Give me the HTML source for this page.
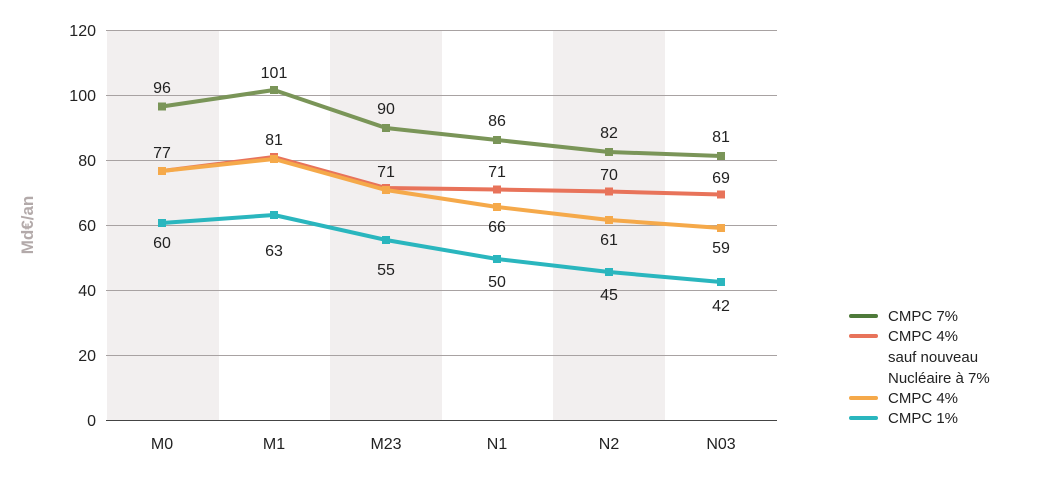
<!DOCTYPE html>
<html><head><meta charset="utf-8"><style>
body{margin:0;background:#fff;}
svg text{font-family:"Liberation Sans",sans-serif;fill:#222;}
</style></head><body>
<svg width="1037" height="477" viewBox="0 0 1037 477" xmlns="http://www.w3.org/2000/svg">
<rect x="107" y="30" width="112" height="390" fill="#f2efef"/>
<rect x="330" y="30" width="112" height="390" fill="#f2efef"/>
<rect x="553" y="30" width="112" height="390" fill="#f2efef"/>
<g stroke="#a8a2a2" stroke-width="1">
<line x1="106" y1="30.5" x2="777" y2="30.5"/>
<line x1="106" y1="95.5" x2="777" y2="95.5"/>
<line x1="106" y1="160.5" x2="777" y2="160.5"/>
<line x1="106" y1="225.5" x2="777" y2="225.5"/>
<line x1="106" y1="290.5" x2="777" y2="290.5"/>
<line x1="106" y1="355.5" x2="777" y2="355.5"/>
</g>
<line x1="106" y1="420.5" x2="777" y2="420.5" stroke="#444"/>
<g font-size="16" text-anchor="end">
<text x="96" y="36">120</text><text x="96" y="101">100</text><text x="96" y="166">80</text>
<text x="96" y="231">60</text><text x="96" y="296">40</text><text x="96" y="361">20</text><text x="96" y="426">0</text>
</g>
<text transform="translate(33,225) rotate(-90)" font-size="17" font-weight="bold" text-anchor="middle" style="fill:#b3aaaa">Md€/an</text>
<g font-size="16" text-anchor="middle">
<text x="162" y="449">M0</text><text x="274" y="449">M1</text><text x="386" y="449">M23</text>
<text x="497" y="449">N1</text><text x="609" y="449">N2</text><text x="721" y="449">N03</text>
</g>
<g fill="none" stroke-width="4" stroke-linejoin="round">
<polyline stroke="#2ab6be" points="162,223 274,215 386,240 497,259 609,272 721,282"/>
<polyline stroke="#e8735a" points="162,171 274,157 386,188 497,189.5 609,191.5 721,194.5"/>
<polyline stroke="#f5a94a" points="162,171 274,159 386,190 497,207 609,220 721,228"/>
<polyline stroke="#7a9558" points="162,106.5 274,90 386,128 497,140 609,152 721,156"/>
</g>
<g>
<g fill="#2ab6be"><rect x="158" y="219" width="8" height="8"/><rect x="270" y="211" width="8" height="8"/><rect x="382" y="236" width="8" height="8"/><rect x="493" y="255" width="8" height="8"/><rect x="605" y="268" width="8" height="8"/><rect x="717" y="278" width="8" height="8"/></g>
<g fill="#e8735a"><rect x="270" y="153" width="8" height="8"/><rect x="382" y="184" width="8" height="8"/><rect x="493" y="185.5" width="8" height="8"/><rect x="605" y="187.5" width="8" height="8"/><rect x="717" y="190.5" width="8" height="8"/></g>
<g fill="#f5a94a"><rect x="158" y="167" width="8" height="8"/><rect x="270" y="155" width="8" height="8"/><rect x="382" y="186" width="8" height="8"/><rect x="493" y="203" width="8" height="8"/><rect x="605" y="216" width="8" height="8"/><rect x="717" y="224" width="8" height="8"/></g>
<g fill="#7a9558"><rect x="158" y="102.5" width="8" height="8"/><rect x="270" y="86" width="8" height="8"/><rect x="382" y="124" width="8" height="8"/><rect x="493" y="136" width="8" height="8"/><rect x="605" y="148" width="8" height="8"/><rect x="717" y="152" width="8" height="8"/></g>
</g>
<g font-size="16" text-anchor="middle">
<text x="162" y="93">96</text><text x="274" y="78">101</text><text x="386" y="114">90</text><text x="497" y="126">86</text><text x="609" y="138">82</text><text x="721" y="142">81</text>
<text x="162" y="158">77</text><text x="274" y="145">81</text><text x="386" y="177">71</text><text x="497" y="177">71</text><text x="609" y="180">70</text><text x="721" y="183">69</text>
<text x="497" y="232">66</text><text x="609" y="245">61</text><text x="721" y="253">59</text>
<text x="162" y="248">60</text><text x="274" y="256">63</text><text x="386" y="275">55</text><text x="497" y="287">50</text><text x="609" y="300">45</text><text x="721" y="311">42</text>
</g>
<g stroke-width="4" stroke-linecap="round">
<line x1="851" y1="316" x2="876" y2="316" stroke="#4e7a3a"/>
<line x1="851" y1="336" x2="876" y2="336" stroke="#e8735a"/>
<line x1="851" y1="398" x2="876" y2="398" stroke="#f5a94a"/>
<line x1="851" y1="418" x2="876" y2="418" stroke="#2ab6be"/>
</g>
<g font-size="15">
<text x="888" y="321">CMPC 7%</text><text x="888" y="341">CMPC 4%</text>
<text x="888" y="362">sauf nouveau</text><text x="888" y="383">Nucléaire à 7%</text>
<text x="888" y="403">CMPC 4%</text><text x="888" y="423">CMPC 1%</text>
</g>
</svg>
</body></html>
